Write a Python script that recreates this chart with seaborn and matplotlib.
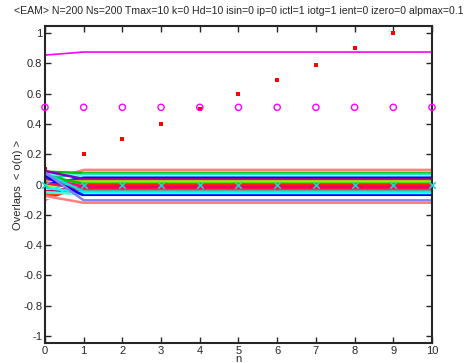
import numpy as np
import pandas as pd
import matplotlib
matplotlib.use("Agg")
import matplotlib.pyplot as plt
import seaborn as sns

# values
n_pts = [0, 1, 2, 3, 4, 5, 6, 7, 8, 9, 10]
red_n = [0, 1, 2, 3, 4, 5, 6, 7, 8, 9]
red_o = [0.10, 0.20, 0.30, 0.40, 0.50, 0.60, 0.69, 0.79, 0.90, 1.00]
circ_o = [0.51] * 11
cross_o = [-0.005] * 11
mag_n = [0, 1, 10]
mag_o = [0.855, 0.875, 0.875]

# band of overlap lines: value at n=0, plateau value for n>=1
band_n = [0, 1, 10]
band_start = [0.02, 0.085, -0.06, 0.05, 0.07, -0.03, 0.0, 0.09, -0.085, 0.03,
              -0.01, 0.06, -0.1, 0.04, -0.045, 0.01, -0.07, 0.075, -0.02, -0.05,
              0.055, -0.09, 0.08, -0.075]
band_end = [0.097, 0.077, 0.070, 0.064, 0.058, 0.052, 0.045, 0.036, 0.030, 0.022,
            0.014, 0.005, -0.004, -0.012, -0.020, -0.029, -0.038, -0.046, -0.055, -0.064,
            -0.072, -0.084, -0.104, -0.120]
band_colors = ["#ff8080", "#00c000", "#40e080", "#00d0a0", "#60ffe0", "#80ffff",
               "#0000ff", "#8000c0", "#ff0000", "#a0d000", "#80ff00", "#00c000",
               "#ff2000", "#ff0080", "#e00060", "#ff1040", "#ff4000", "#00e0e0",
               "#00ffff", "#40ffe0", "#0000ff", "#ffffff", "#8080ff", "#ff8080"]

title = ("<EAM> N=200 Ns=200 Tmax=10 k=0 Hd=10 isin=0 ip=0 ictl=1 iotg=1 "
         "ient=0 izero=0 alpmax=0.1")

sns.set_style("ticks")
plt.rcParams["font.family"] = ["Liberation Sans", "DejaVu Sans"]

rows = []
for i, (s, e) in enumerate(zip(band_start, band_end)):
    for n, v in zip(band_n, [s, e, e]):
        rows.append({"line": i, "n": n, "o": v})
band = pd.DataFrame(rows)

fig = plt.figure(figsize=(4.72, 3.63), dpi=100)
ax = fig.add_axes([0.0953, 0.055, 0.8199, 0.873])

sns.lineplot(data=band, x="n", y="o", hue="line", palette=band_colors,
             legend=False, lw=1.8, ax=ax, estimator=None, sort=False)
sns.lineplot(x=mag_n, y=mag_o, color="#ff00ff", lw=1.2, ax=ax, estimator=None)
sns.scatterplot(x=red_n, y=red_o, color="red", marker="s", s=5, lw=0, ax=ax)
ax.scatter(n_pts, circ_o, s=20, facecolors="none", edgecolors="#ff00ff",
           linewidths=1.0, clip_on=False, zorder=5)
ax.scatter(n_pts, cross_o, s=22, marker="x", color="#20d0d0",
           linewidths=1.2, clip_on=False, zorder=5)

ax.set_xlim(0, 10)
ax.set_ylim(-1.046, 1.046)
ax.set_xticks(range(0, 11))
yt = [-1, -0.8, -0.6, -0.4, -0.2, 0, 0.2, 0.4, 0.6, 0.8, 1]
ax.set_yticks(yt)
ax.set_yticklabels(["%g" % v for v in yt])
ax.tick_params(direction="in", length=4, width=1, labelsize=8,
               top=True, right=True, pad=2)
for sp in ax.spines.values():
    sp.set_linewidth(1.5)
    sp.set_visible(True)
ax.set_xlabel("n", fontsize=8, labelpad=-1)
ax.set_ylabel("Overlaps  < o(n) >", fontsize=8, labelpad=0)
ax.set_title(title, fontsize=7.6, pad=9)

fig.savefig("out.png", dpi=100)
